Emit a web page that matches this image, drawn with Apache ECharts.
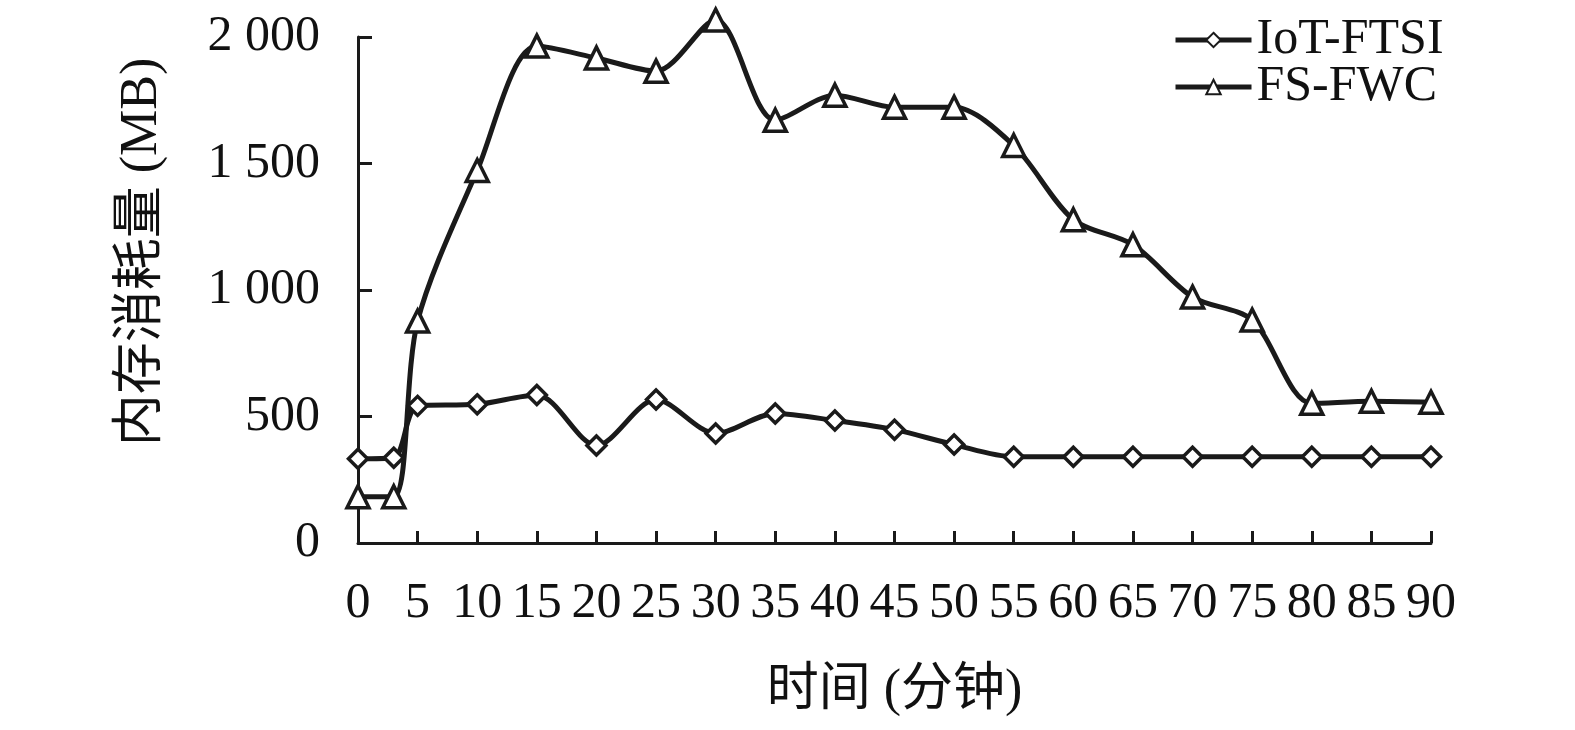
<!DOCTYPE html>
<html>
<head>
<meta charset="utf-8">
<script src="https://cdn.jsdelivr.net/npm/echarts@6/dist/echarts.min.js"></script>
<style>html,body{margin:0;padding:0;background:#fff;}#c{width:1575px;height:730px;}</style>
</head>
<body>
<div id="c"></div>
<script>
var times = [0, 3, 5, 10, 15, 20, 25, 30, 35, 40, 45, 50, 55, 60, 65, 70, 75, 80, 85, 90];
var iotFtsi = [333, 337, 542, 548, 585, 385, 567, 433, 512, 484, 448, 389, 341, 341, 341, 341, 341, 341, 341, 341];
var fsFwc = [183, 183, 877, 1472, 1964, 1917, 1865, 2067, 1671, 1770, 1722, 1722, 1571, 1278, 1179, 972, 881, 552, 560, 556];
var yTicks = [0, 500, 1000, 1500, 2000];
var seriesNames = ['IoT-FTSI', 'FS-FWC'];
var xName = '时间 (分钟)';
var yName = '内存消耗量 (MB)';

function pairs(xs, ys) { return xs.map(function (x, i) { return [x, ys[i]]; }); }
function fmtNum(v) {
  var s = String(v);
  return s.length > 3 ? s.slice(0, s.length - 3) + ' ' + s.slice(-3) : s;
}

var serif = '"Liberation Serif", "Times New Roman", serif';
var cjk = '"Liberation Serif", "Noto Sans CJK SC", serif';
var chart = echarts.init(document.getElementById('c'), null, { renderer: 'canvas' });
chart.setOption({
  animation: false,
  backgroundColor: '#fff',
  grid: { left: 358, right: 144, top: 37, bottom: 187, containLabel: false },
  legend: {
    orient: 'vertical',
    left: 1168,
    top: 10,
    itemWidth: 76,
    itemHeight: 18,
    itemGap: -3,
    lineStyle: { width: 5, color: '#1a1a1a' },
    textStyle: { fontFamily: serif, fontSize: 50, color: '#111', lineHeight: 47 },
    data: seriesNames
  },
  xAxis: {
    type: 'value',
    min: 0, max: 90, interval: 5,
    name: xName,
    nameLocation: 'middle',
    nameGap: 122,
    nameTextStyle: { fontFamily: cjk, fontSize: 52, color: '#111' },
    axisLine: { show: true, lineStyle: { color: '#1a1a1a', width: 3 } },
    axisTick: { show: true, inside: true, length: 12, lineStyle: { color: '#1a1a1a', width: 3 } },
    axisLabel: { fontFamily: serif, fontSize: 50, color: '#111', margin: 36 },
    splitLine: { show: false }
  },
  yAxis: {
    type: 'value',
    min: 0, max: 2000, interval: 500,
    name: yName,
    nameLocation: 'middle',
    nameGap: 190,
    nameTextStyle: { fontFamily: cjk, fontSize: 52, color: '#111', padding: [0, 0, 0, 76] },
    axisLine: { show: true, lineStyle: { color: '#1a1a1a', width: 3 } },
    axisTick: { show: true, inside: true, length: 14, lineStyle: { color: '#1a1a1a', width: 3 } },
    axisLabel: { fontFamily: serif, fontSize: 50, color: '#111', margin: 38,
      formatter: function (v) { return yTicks.indexOf(v) >= 0 ? fmtNum(v) : ''; } },
    splitLine: { show: false }
  },
  series: [
    {
      name: seriesNames[0], type: 'line', smooth: 0.3, clip: false,
      data: pairs(times, iotFtsi),
      symbol: 'diamond', symbolSize: 19,
      lineStyle: { color: '#1a1a1a', width: 5 },
      itemStyle: { color: '#fff', borderColor: '#1a1a1a', borderWidth: 3.5 }
    },
    {
      name: seriesNames[1], type: 'line', smooth: 0.3, clip: false,
      data: pairs(times, fsFwc),
      symbol: 'triangle', symbolSize: 22,
      lineStyle: { color: '#1a1a1a', width: 5 },
      itemStyle: { color: '#fff', borderColor: '#1a1a1a', borderWidth: 3.5 }
    }
  ]
});
</script>
</body>
</html>
